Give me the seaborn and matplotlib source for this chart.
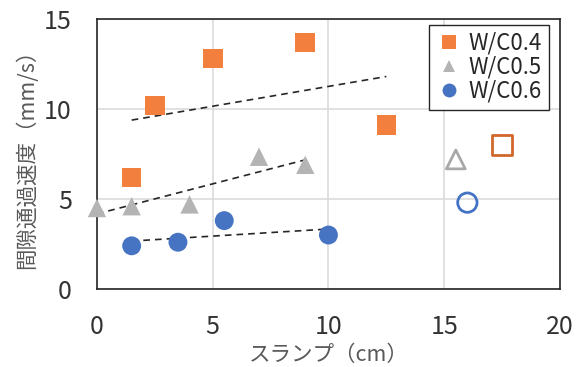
import numpy as np
import pandas as pd
import matplotlib
matplotlib.use("Agg")
import matplotlib.pyplot as plt
from matplotlib.lines import Line2D
import seaborn as sns

# スランプ (cm) と 間隙通過速度 (mm/s)
slump_04 = [1.5, 2.5, 5.0, 9.0, 12.5]
speed_04 = [6.2, 10.2, 12.8, 13.7, 9.1]
slump_05 = [0.0, 1.5, 4.0, 7.0, 9.0]
speed_05 = [4.5, 4.6, 4.7, 7.35, 6.9]
slump_06 = [1.5, 3.5, 5.5, 10.0]
speed_06 = [2.4, 2.6, 3.8, 3.0]

# 白抜きの点（各W/C）
open_slump = [17.5, 15.5, 16.0]
open_speed = [8.0, 7.2, 4.8]

series_labels = ["W/C0.4", "W/C0.5", "W/C0.6"]
x_ticks = [0, 5, 10, 15, 20]
y_ticks = [0, 5, 10, 15]

fill_colors = ["#F27F3D", "#B4B4B4", "#4673C2"]
edge_colors = ["#D2672B", "#A8A8A8", "#4472C4"]
markers = ["s", "^", "o"]
sizes = [200, 175, 185]

sns.set_theme(style="white")
plt.rcParams["font.family"] = ["Noto Sans CJK JP", "DejaVu Sans"]

df = pd.concat([
    pd.DataFrame({"slump": slump_04, "speed": speed_04, "wc": series_labels[0]}),
    pd.DataFrame({"slump": slump_05, "speed": speed_05, "wc": series_labels[1]}),
    pd.DataFrame({"slump": slump_06, "speed": speed_06, "wc": series_labels[2]}),
], ignore_index=True)

fig = plt.figure(figsize=(5.77, 3.67), dpi=100)
ax = fig.add_axes([0.168, 0.2125, 0.8025, 0.7355])

# 回帰直線（破線）
for lab in series_labels:
    sub = df[df["wc"] == lab]
    sns.regplot(data=sub, x="slump", y="speed", ax=ax, scatter=False, ci=None,
                truncate=True,
                line_kws=dict(color="#262626", lw=1.2, ls=(0, (4, 3)), zorder=3))

# 測定点
for lab, c, m, s in zip(series_labels, fill_colors, markers, sizes):
    sub = df[df["wc"] == lab]
    sns.scatterplot(data=sub, x="slump", y="speed", ax=ax, marker=m, s=s,
                    color=c, edgecolor="none", linewidth=0, legend=False,
                    zorder=4, clip_on=False)

# 白抜きの点
for xv, yv, c, m, s in zip(open_slump, open_speed, edge_colors, markers, sizes):
    ax.scatter([xv], [yv], marker=m, s=s * 1.05, facecolors="none",
               edgecolors=c, linewidths=2.0, zorder=4, clip_on=False)

ax.set_xlim(0, 20)
ax.set_ylim(0, 15)
ax.set_xticks(x_ticks)
ax.set_yticks(y_ticks)
ax.tick_params(axis="both", length=0, pad=18, labelsize=18, colors="#333333")
ax.grid(True, color="#D9D9D9", lw=1.1)
ax.set_axisbelow(True)
for sp in ax.spines.values():
    sp.set_visible(True)
    sp.set_color("#262626")
    sp.set_linewidth(1.2)

ax.set_xlabel("スランプ（cm）", fontsize=15.5, color="#595959", labelpad=3)
ax.set_ylabel("間隙通過速度（mm/s）", fontsize=15.5, color="#595959", labelpad=4)

handles = [Line2D([], [], ls="none", marker=m, color=c, markersize=ms,
                  markeredgewidth=0)
           for m, c, ms in zip(markers, fill_colors, [10, 9, 10])]
leg = ax.legend(handles, series_labels, loc="upper right",
                bbox_to_anchor=(0.976, 0.978), fontsize=16, frameon=True,
                fancybox=False, edgecolor="#262626", framealpha=1,
                handlelength=1.2, handletextpad=0.3, borderpad=0.3,
                labelspacing=0.05, borderaxespad=0.0)
leg.get_frame().set_linewidth(1.0)
for t in leg.get_texts():
    t.set_color("#262626")

fig.savefig("out.png", dpi=100)
